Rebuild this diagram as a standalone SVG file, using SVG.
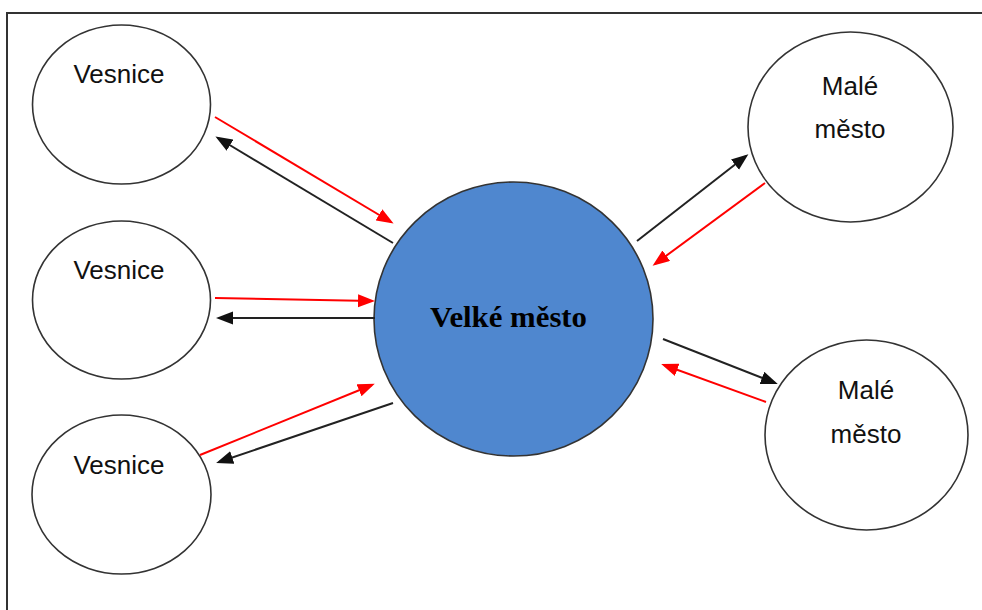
<svg xmlns="http://www.w3.org/2000/svg" width="982" height="610" viewBox="0 0 982 610">
<style>
.node{fill:#fff;stroke:#333;stroke-width:1.6}
.big{fill:#4F87CF;stroke:#333;stroke-width:1.6}
.lbl{font-family:"Liberation Sans",Arial,sans-serif;font-size:26px;fill:#111;text-anchor:middle}
.blbl{font-family:"Liberation Serif","Times New Roman",serif;font-size:29px;font-weight:bold;fill:#000;text-anchor:middle}
.r{stroke:#f00;stroke-width:2;fill:none;marker-end:url(#ar)}
.k{stroke:#222;stroke-width:2;fill:none;marker-end:url(#ak)}
</style>
<defs>
<marker id="ar" markerUnits="userSpaceOnUse" markerWidth="18" markerHeight="14" refX="14" refY="6.5" orient="auto" viewBox="0 0 18 14">
<path d="M0,0 L17,6.5 L0,13 z" fill="#f00"/>
</marker>
<marker id="ak" markerUnits="userSpaceOnUse" markerWidth="18" markerHeight="14" refX="14" refY="6.5" orient="auto" viewBox="0 0 18 14">
<path d="M0,0 L17,6.5 L0,13 z" fill="#111"/>
</marker>
</defs>
<rect width="982" height="610" fill="#fff"/>
<path d="M7,610 V13 H982" fill="none" stroke="#333" stroke-width="2"/>
<g id="vesnice1">
<ellipse class="node" cx="121.5" cy="104.5" rx="89" ry="79.5"/>
<text class="lbl" x="119" y="83">Vesnice</text>
</g>
<g id="vesnice2">
<ellipse class="node" cx="121.5" cy="300" rx="89" ry="79"/>
<text class="lbl" x="119" y="279">Vesnice</text>
</g>
<g id="vesnice3">
<ellipse class="node" cx="121.5" cy="494.5" rx="89.5" ry="79.5"/>
<text class="lbl" x="119" y="474">Vesnice</text>
</g>
<g id="velke-mesto">
<ellipse class="big" cx="513.5" cy="319" rx="139.5" ry="137"/>
<text class="blbl" x="508.5" y="327" textLength="157" lengthAdjust="spacingAndGlyphs">Velké město</text>
</g>
<g id="male-mesto1">
<ellipse class="node" cx="850.5" cy="127" rx="102.5" ry="95"/>
<text class="lbl" x="850" y="95">Malé</text>
<text class="lbl" x="850" y="138">město</text>
</g>
<g id="male-mesto2">
<ellipse class="node" cx="866.5" cy="435" rx="101.5" ry="95"/>
<text class="lbl" x="866" y="399">Malé</text>
<text class="lbl" x="866" y="443">město</text>
</g>
<g id="connectors">
<line class="r" x1="215" y1="117" x2="391" y2="222"/>
<line class="k" x1="393" y1="243" x2="218" y2="138"/>
<line class="r" x1="215" y1="298" x2="372" y2="301"/>
<line class="k" x1="375" y1="318" x2="219" y2="318"/>
<line class="r" x1="200" y1="455" x2="372" y2="385"/>
<line class="k" x1="393" y1="403" x2="219" y2="462"/>
<line class="k" x1="637" y1="241" x2="746" y2="156"/>
<line class="r" x1="765" y1="183" x2="655" y2="264"/>
<line class="k" x1="663" y1="339" x2="775" y2="383"/>
<line class="r" x1="766" y1="402" x2="664" y2="365"/>
</g>
</svg>
